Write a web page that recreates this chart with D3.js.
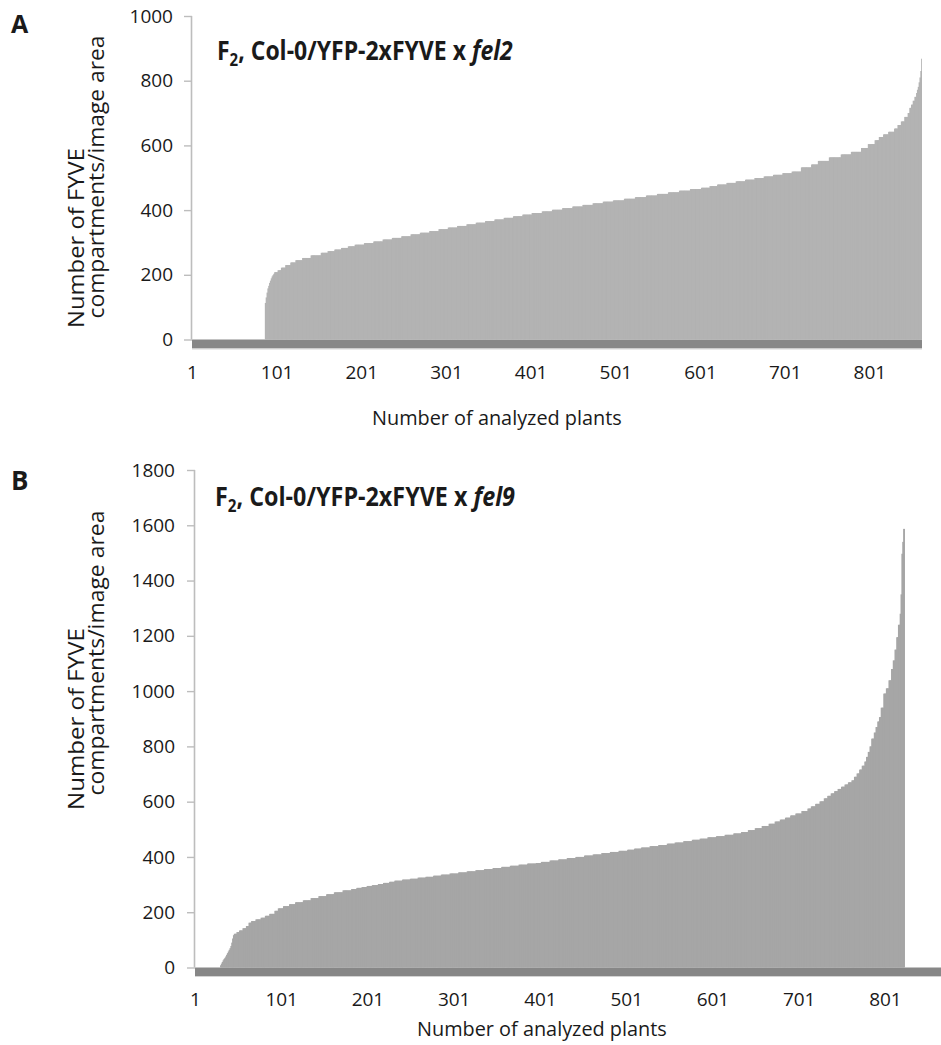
<!DOCTYPE html>
<html>
<head>
<meta charset="utf-8">
<script src="https://cdn.jsdelivr.net/npm/d3@7"></script>
<style>
  html, body { margin: 0; padding: 0; background: #fff; }
  svg { display: block; }
  text { font-family: "Open Sans", "Liberation Sans", sans-serif; fill: #1a1a1a; }
</style>
</head>
<body>
<svg id="chart" width="941" height="1045"></svg>
<script>
// ---------------- DATA ----------------
// Panel A: F2, Col-0/YFP-2xFYVE x fel2 — sorted values, run-length encoded as [value, number of plants]
const fel2Runs = [
  [0, 86],
  [113, 1], [130, 1], [145, 1], [158, 1], [166, 1], [175, 1], [182, 1], [189, 1], [195, 1], [199, 1], [203, 1],
  [208, 4], [214, 4], [222, 5], [230, 6], [238, 6], [245, 8], [252, 10], [260, 12],
  [268, 8], [273, 8], [278, 8], [283, 8], [288, 8],
  [293, 11], [298, 11], [303, 11], [309, 11], [314, 11], [319, 11], [325, 11], [330, 11], [335, 11], [341, 11],
  [346, 11], [351, 11], [356, 11], [361, 11], [366, 11], [371, 11], [376, 11], [381, 11], [386, 11],
  [391, 12], [396, 12], [401, 12], [406, 12], [411, 12], [416, 12], [421, 12], [426, 12],
  [430, 13], [435, 13], [440, 13], [445, 13], [450, 13], [455, 13], [460, 13], [465, 13],
  [469, 10], [474, 9],
  [479, 11], [484, 11], [489, 11], [494, 11], [499, 11], [504, 11], [509, 11], [514, 11], [519, 11],
  [532, 12], [541, 8], [552, 13], [563, 14], [572, 12], [580, 12], [592, 8], [604, 8], [616, 5], [626, 5],
  [634, 6], [642, 7], [652, 4], [663, 4], [674, 4], [688, 4], [700, 2], [716, 2], [726, 2], [738, 2], [750, 2],
  [762, 1], [772, 1], [781, 1], [795, 1], [810, 1], [830, 1], [868, 1]
];
// Panel B: F2, Col-0/YFP-2xFYVE x fel9
const fel9Runs = [
  [0, 29],
  [8, 1], [14, 1], [20, 1], [26, 1], [31, 1], [35, 1], [40, 1], [46, 1], [52, 1], [58, 1], [64, 1], [70, 1], [78, 1], [90, 1], [105, 1], [117, 1],
  [122, 3], [128, 3], [134, 4], [142, 4], [150, 3], [162, 3], [168, 5], [174, 6], [180, 5], [187, 5], [194, 6],
  [205, 4], [214, 6], [222, 7], [229, 7], [236, 9], [243, 9], [251, 9], [258, 9], [265, 9], [272, 10], [279, 10],
  [284, 6], [288, 6], [291, 6], [295, 6], [298, 7], [302, 6], [306, 7], [310, 6],
  [314, 9], [318, 9], [321, 9], [325, 9], [328, 9], [332, 9],
  [336, 10], [340, 10], [344, 10], [348, 10], [352, 10], [356, 10], [360, 10], [364, 10], [368, 10], [372, 10], [376, 10],
  [378, 6],
  [382, 10], [387, 10], [391, 10], [396, 10], [400, 10], [405, 10], [409, 10], [414, 10], [418, 10],
  [422, 10], [426, 8], [430, 8], [434, 10], [439, 10], [443, 10], [448, 9], [452, 10], [457, 10], [462, 9], [466, 9],
  [471, 10], [475, 10], [480, 10], [485, 9], [490, 8], [497, 8], [504, 8], [512, 8], [520, 7],
  [528, 6], [535, 6], [542, 6], [550, 6], [557, 7], [566, 7], [575, 4], [583, 5], [592, 5], [601, 5],
  [612, 4], [621, 4], [630, 4], [638, 4], [646, 4], [654, 4], [662, 4], [670, 4], [677, 3],
  [690, 3], [702, 3], [716, 3], [730, 3], [745, 2], [762, 2], [780, 2], [800, 2],
  [828, 3], [850, 2], [870, 2], [890, 2], [906, 2], [940, 3], [991, 3], [1010, 3], [1039, 3], [1080, 2],
  [1111, 2], [1150, 2], [1195, 2], [1240, 2], [1280, 1], [1350, 1], [1497, 1], [1540, 1], [1587, 1]
];
const categoryCountA = 862;
const categoryCountB = 866;
const xTickLabels = ["1", "101", "201", "301", "401", "501", "601", "701", "801"];
const yTicksA = [0, 200, 400, 600, 800, 1000];
const yTicksB = [0, 200, 400, 600, 800, 1000, 1200, 1400, 1600, 1800];
const yTitleLines = ["Number of FYVE", "compartments/image area"];
const xTitle = "Number of analyzed plants";

function expandRuns(runs) {
  const out = [];
  runs.forEach(([v, n]) => { for (let i = 0; i < n; i++) out.push(v); });
  return out;
}

const svg = d3.select("#chart");

function fitX(sel, targetW, anchorX, baseY) {
  const w = sel.node().getBBox().width;
  const s = targetW / w;
  sel.attr("transform", `translate(${anchorX},${baseY}) scale(${s},1)`);
}

function panel(cfg) {
  const values = expandRuns(cfg.runs);
  const cats = d3.range(1, cfg.nCats + 1);
  const x = d3.scaleBand().domain(cats).range([cfg.x0, cfg.x1]).padding(0);
  const y = d3.scaleLinear().domain([0, cfg.yMax]).range([cfg.y0, cfg.yTop]);
  const g = svg.append("g");

  // floor band beneath the baseline
  g.append("rect")
    .attr("x", cfg.x0).attr("y", y(0))
    .attr("width", cfg.floorEnd - cfg.x0).attr("height", cfg.floorH)
    .attr("fill", "#878787");
  g.append("line")
    .attr("x1", cfg.x0).attr("x2", cfg.floorEnd)
    .attr("y1", y(0) + cfg.floorH + 0.5).attr("y2", y(0) + cfg.floorH + 0.5)
    .attr("stroke", "#d4d4d4").attr("stroke-width", 1);

  // bars
  g.append("g").selectAll("rect")
    .data(values.map((v, i) => ({ cat: i + 1, v })).filter(d => d.v > 0))
    .join("rect")
    .attr("x", d => x(d.cat))
    .attr("width", d => Math.min(x.bandwidth() + 1, cfg.x1 - x(d.cat)))
    .attr("y", d => y(d.v))
    .attr("height", d => y(0) - y(d.v))
    .attr("fill", cfg.barColor);

  // y axis
  const ya = g.append("g")
    .attr("transform", `translate(${cfg.x0},0)`)
    .call(d3.axisLeft(y).tickValues(cfg.yTicks).tickSize(8).tickPadding(cfg.tickPad).tickFormat(d3.format("d")));
  ya.select(".domain").attr("stroke", "#bdbdbd").attr("stroke-width", 1.6)
    .attr("d", `M-0.5,${y(0)}V${cfg.yTop}`);
  ya.selectAll(".tick line").attr("stroke", "#bdbdbd").attr("stroke-width", 1.4);
  ya.selectAll(".tick text").attr("font-size", cfg.tickFont).attr("fill", "#1a1a1a")
    .style("font-family", '"Open Sans", sans-serif');

  // x axis labels (category labels, no tick marks)
  const xa = g.append("g");
  xa.selectAll("text").data(xTickLabels).join("text")
    .attr("x", d => x(+d) + x.bandwidth() / 2)
    .attr("y", cfg.xLabelY)
    .attr("text-anchor", "middle")
    .attr("font-size", cfg.tickFont)
    .text(d => d);

  // x title
  const xt = g.append("text").attr("font-size", 20).attr("text-anchor", "start").text(xTitle);
  fitX(xt, cfg.xTitleW, cfg.xTitleX, cfg.xTitleY);

  // y title (two rotated lines)
  yTitleLines.forEach((line, i) => {
    const t = g.append("text")
      .attr("font-size", 21)
      .attr("text-anchor", "middle")
      .text(line);
    const w = t.node().getBBox().width;
    t.attr("transform", `translate(${cfg.yTitleX[i]},${cfg.yTitleCY[i]}) rotate(-90) scale(${cfg.yTitleLen[i] / w},1)`);
  });

  // panel letter
  g.append("text").attr("x", cfg.letterX).attr("y", cfg.letterY)
    .attr("font-size", cfg.letterSize).attr("font-weight", 700).text(cfg.letter);

  // chart title
  const tt = g.append("text").attr("font-size", 26).attr("font-weight", 700);
  tt.append("tspan").text("F");
  tt.append("tspan").attr("font-size", 17).attr("dy", 6).text("2");
  tt.append("tspan").attr("dy", -6).text(", Col-0/YFP-2xFYVE x ");
  tt.append("tspan").attr("font-style", "italic").text(cfg.titleItalic);
  fitX(tt, cfg.titleW, cfg.titleX, cfg.titleY);
}

panel({
  runs: fel2Runs, nCats: categoryCountA, x0: 192, x1: 922, floorEnd: 922, floorH: 9,
  y0: 339.5, yTop: 16, yMax: 1000, yTicks: yTicksA, tickPad: 11, tickFont: 19,
  barColor: "#b3b3b3", xLabelY: 379,
  xTitleX: 372, xTitleY: 425, xTitleW: 250,
  yTitleX: [84, 104], yTitleCY: [238, 177], yTitleLen: [180, 283],
  letter: "A", letterX: 11, letterY: 33, letterSize: 25,
  titleX: 217, titleY: 60, titleW: 296, titleItalic: "fel2"
});

panel({
  runs: fel9Runs, nCats: categoryCountB, x0: 195, x1: 195 + 866 * 0.8625, floorEnd: 941, floorH: 8.5,
  y0: 967.5, yTop: 470, yMax: 1800, yTicks: yTicksB, tickPad: 12, tickFont: 19,
  barColor: "#a6a6a6", xLabelY: 1006,
  xTitleX: 417, xTitleY: 1036, xTitleW: 250,
  yTitleX: [84, 104], yTitleCY: [719, 653], yTitleLen: [182, 285],
  letter: "B", letterX: 11, letterY: 490, letterSize: 26,
  titleX: 215, titleY: 506, titleW: 300, titleItalic: "fel9"
});
</script>
</body>
</html>
